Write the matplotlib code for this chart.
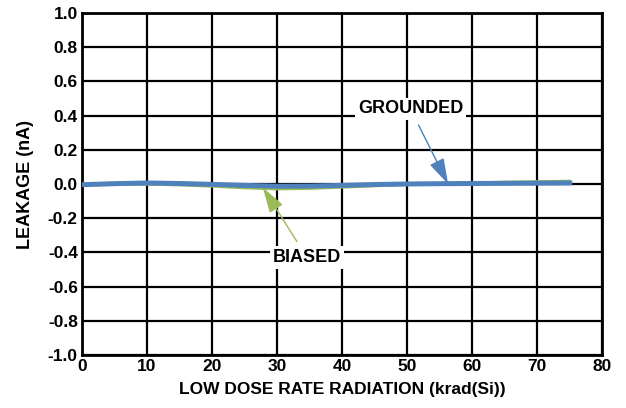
import matplotlib
matplotlib.use("Agg")
import matplotlib.pyplot as plt

plt.rcParams['font.family'] = ['Liberation Sans', 'DejaVu Sans']
plt.rcParams['font.weight'] = 'bold'

dose = [0, 5, 10, 15, 20, 25, 30, 35, 40, 45, 50, 55, 60, 65, 70, 75]
grounded = [-0.004, 0.002, 0.006, 0.003, -0.002, -0.008, -0.013, -0.012, -0.008, -0.003, 0.000, 0.002, 0.003, 0.004, 0.005, 0.006]
biased = [-0.008, -0.004, -0.002, -0.007, -0.014, -0.024, -0.030, -0.027, -0.020, -0.012, -0.004, 0.004, 0.008, 0.012, 0.015, 0.018]

xticks = [0, 10, 20, 30, 40, 50, 60, 70, 80]
yticks = [-1.0, -0.8, -0.6, -0.4, -0.2, 0.0, 0.2, 0.4, 0.6, 0.8, 1.0]

fig = plt.figure(figsize=(6.26, 4.08), dpi=100)
ax = fig.add_axes([0.131, 0.130, 0.831, 0.838])

ax.plot(dose, biased, color='#9BBB59', lw=1.8, zorder=3)
ax.plot(dose, grounded, color='#4F81BD', lw=3.6, zorder=4)

ax.set_xlim(0, 80)
ax.set_ylim(-1.0, 1.0)
ax.set_xticks(xticks)
ax.set_yticks(yticks)
ax.set_xticklabels([f"{v}" for v in xticks], fontsize=12.5, fontweight='bold')
ax.set_yticklabels([f"{v:.1f}" for v in yticks], fontsize=12.5, fontweight='bold')
ax.tick_params(length=0, pad=3)
ax.grid(True, color='black', lw=1.6, zorder=1)
ax.set_axisbelow(True)
for s in ax.spines.values():
    s.set_color('black')
    s.set_linewidth(2.0)

ax.set_xlabel('LOW DOSE RATE RADIATION (krad(Si))', fontsize=12.5, fontweight='bold', labelpad=6)
ax.set_ylabel('LEAKAGE (nA)', fontsize=13, fontweight='bold', labelpad=10)

ax.annotate('GROUNDED', xy=(56.3, 0.0), xytext=(50.5, 0.44),
            ha='center', va='center', fontsize=13, fontweight='bold',
            bbox=dict(boxstyle='square,pad=0.15', fc='white', ec='none'),
            arrowprops=dict(arrowstyle='-|>,head_length=0.53,head_width=0.16', color='#4F81BD',
                            lw=1.0, mutation_scale=30, shrinkA=4, shrinkB=0), zorder=6)
ax.annotate('BIASED', xy=(27.8, -0.02), xytext=(34.6, -0.43),
            ha='center', va='center', fontsize=13, fontweight='bold',
            bbox=dict(boxstyle='square,pad=0.15', fc='white', ec='none'),
            arrowprops=dict(arrowstyle='-|>,head_length=0.53,head_width=0.16', color='#9BBB59',
                            lw=1.0, mutation_scale=30, shrinkA=4, shrinkB=0), zorder=6)

fig.savefig('out.png', dpi=100)
